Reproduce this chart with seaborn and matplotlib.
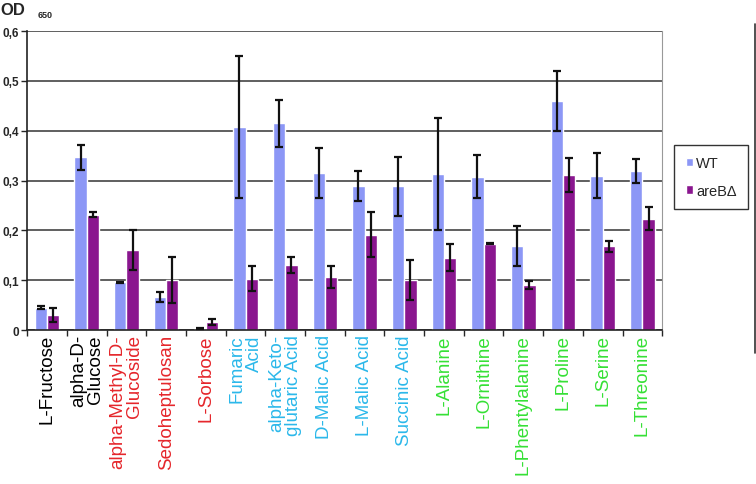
import seaborn as sns
import matplotlib.pyplot as plt
import matplotlib.lines as mlines
import numpy as np
import pandas as pd

substrates = ["L-Fructose", "alpha-D-\nGlucose", "alpha-Methyl-D-\nGlucoside", "Sedoheptulosan",
              "L-Sorbose", "Fumaric\nAcid", "alpha-Keto-\nglutaric Acid", "D-Malic Acid",
              "L-Malic Acid", "Succinic Acid", "L-Alanine", "L-Ornithine",
              "L-Phentylalanine", "L-Proline", "L-Serine", "L-Threonine"]
label_colors = ["black", "black", "#e5262b", "#e5262b", "#e5262b",
                "#2bb8ea", "#2bb8ea", "#2bb8ea", "#2bb8ea", "#2bb8ea",
                "#35e035", "#35e035", "#35e035", "#35e035", "#35e035", "#35e035"]

wt = [0.045, 0.347, 0.096, 0.067, 0.003, 0.407, 0.415, 0.315,
      0.289, 0.288, 0.313, 0.308, 0.169, 0.460, 0.310, 0.320]
wt_err = [0.003, 0.025, 0.001, 0.010, 0.001, 0.142, 0.047, 0.050,
          0.030, 0.060, 0.113, 0.044, 0.040, 0.060, 0.045, 0.024]
areb = [0.030, 0.231, 0.160, 0.100, 0.017, 0.103, 0.131, 0.107,
        0.191, 0.100, 0.145, 0.173, 0.091, 0.311, 0.168, 0.223]
areb_err = [0.014, 0.005, 0.040, 0.046, 0.006, 0.025, 0.016, 0.022,
            0.045, 0.040, 0.027, 0.001, 0.008, 0.034, 0.011, 0.023]

strains = ["WT", "areB\u0394"]
colors = ["#8c97f6", "#8a168f"]

df = pd.DataFrame({
    "substrate": substrates * 2,
    "strain": [strains[0]] * len(substrates) + [strains[1]] * len(substrates),
    "od": wt + areb,
    "err": wt_err + areb_err,
})

sns.set_style("white")
plt.rcParams["font.family"] = ["Liberation Sans", "DejaVu Sans"]

fig = plt.figure(figsize=(7.56, 4.85), dpi=100)
ax = fig.add_axes([0.036, 0.3175, 0.84, 0.6165])

sns.barplot(data=df, x="substrate", y="od", hue="strain", palette=colors,
            width=0.62, gap=0, errorbar=None, saturation=1, ax=ax, zorder=2, legend=True)

for cont, errs in zip(ax.containers, [wt_err, areb_err]):
    xs = [p.get_x() + p.get_width() / 2 for p in cont]
    hs = [p.get_height() for p in cont]
    ax.errorbar(xs, hs, yerr=errs, fmt="none", ecolor="#111111", elinewidth=1.6,
                capsize=2.6, capthick=1.6, zorder=3)

ax.set_ylim(0, 0.6)
ax.set_xlim(-0.5, len(substrates) - 0.5)
ax.set_yticks(np.arange(0, 0.61, 0.1))
ax.set_yticklabels(["0", "0,1", "0,2", "0,3", "0,4", "0,5", "0,6"], fontsize=8.5, fontweight="bold")
ax.yaxis.grid(True, color="#444444", linewidth=1.2, zorder=0)
ax.set_axisbelow(True)
ax.tick_params(axis="y", direction="out", length=4, width=1, left=True, pad=2)

ax.set_xticks(range(len(substrates)))
ax.set_xticklabels(substrates, rotation=90, fontsize=13.5, va="top", ha="center",
                   multialignment="right", linespacing=1.0)
for lbl, c in zip(ax.get_xticklabels(), label_colors):
    lbl.set_color(c)
ax.set_xticks(np.arange(-0.5, len(substrates), 1), minor=True)
ax.tick_params(axis="x", which="major", length=0, pad=3)
ax.tick_params(axis="x", which="minor", direction="out", length=4, width=1, bottom=True)
ax.set_xlabel("")
ax.set_ylabel("")

for s in ["left", "bottom"]:
    ax.spines[s].set_color("#222222")
    ax.spines[s].set_linewidth(1.2)
ax.spines["right"].set_color("#999999")
ax.spines["top"].set_visible(False)

handles, labels = ax.get_legend_handles_labels()
ax.legend(handles, labels, loc="center left", bbox_to_anchor=(0.882, 0.633),
          bbox_transform=fig.transFigure, frameon=True, fancybox=False,
          edgecolor="black", fontsize=10.5, handlelength=0.5, handleheight=0.5,
          handletextpad=0.2, labelspacing=0.9, borderpad=0.8)
ax.get_legend().get_frame().set_linewidth(1.0)

fig.text(0.0, 0.979, "OD", fontsize=12, fontweight="bold", va="center", ha="left")
fig.text(0.05, 0.968, "650", fontsize=6.5, fontweight="bold", va="center", ha="left")

fig.add_artist(mlines.Line2D([0.9985, 0.9985], [0.27, 0.948], color="#333333",
                             linewidth=1.2, transform=fig.transFigure))

fig.savefig("out.png", dpi=100)
